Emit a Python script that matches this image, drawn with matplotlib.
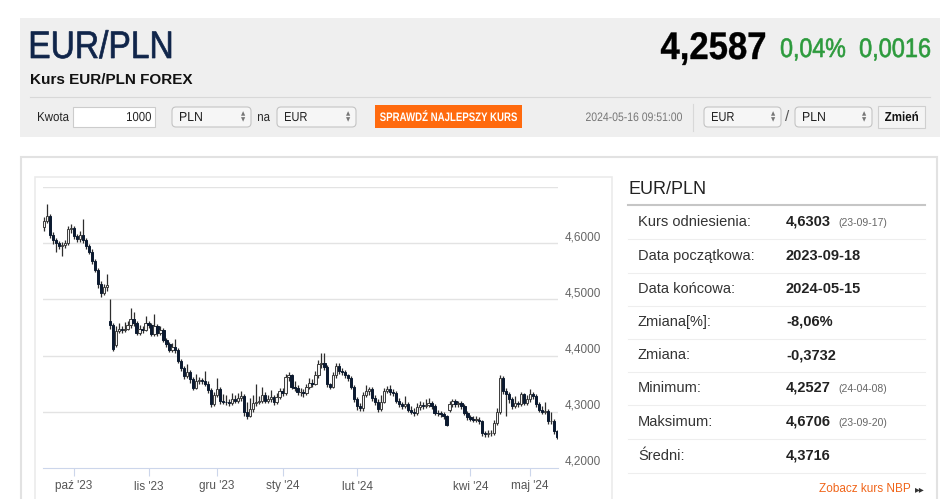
import matplotlib
matplotlib.use("Agg")
import matplotlib.pyplot as plt
from matplotlib.patches import Rectangle, FancyBboxPatch, PathPatch
from matplotlib.textpath import TextPath
from matplotlib.font_manager import FontProperties
from matplotlib.transforms import Affine2D

# daily candles EUR/PLN, 2023-09-18 .. 2024-05-15
opens = [
    4.628, 4.640, 4.648, 4.615, 4.605, 4.600, 4.595, 4.597, 4.600, 4.625,
    4.627, 4.612, 4.607, 4.615, 4.605, 4.595, 4.585, 4.568, 4.552, 4.527,
    4.512, 4.522, 4.462, 4.455, 4.418, 4.444, 4.447, 4.445, 4.448, 4.455,
    4.465, 4.458, 4.440, 4.448, 4.446, 4.458, 4.455, 4.438, 4.452, 4.440,
    4.445, 4.428, 4.420, 4.410, 4.415, 4.410, 4.390, 4.378, 4.363, 4.370,
    4.358, 4.342, 4.355, 4.356, 4.355, 4.350, 4.338, 4.313, 4.330, 4.340,
    4.319, 4.318, 4.317, 4.316, 4.322, 4.320, 4.325, 4.328, 4.300, 4.293,
    4.305, 4.315, 4.318, 4.320, 4.330, 4.320, 4.323, 4.326, 4.318, 4.327,
    4.337, 4.334, 4.362, 4.365, 4.345, 4.342, 4.335, 4.335, 4.333, 4.345,
    4.352, 4.350, 4.365, 4.385, 4.386, 4.380, 4.349, 4.345, 4.365, 4.382,
    4.372, 4.370, 4.365, 4.360, 4.345, 4.323, 4.310, 4.306, 4.330, 4.337,
    4.340, 4.325, 4.318, 4.305, 4.318, 4.337, 4.340, 4.335, 4.333, 4.320,
    4.313, 4.310, 4.313, 4.304, 4.300, 4.298, 4.308, 4.312, 4.310, 4.312,
    4.316, 4.310, 4.298, 4.297, 4.296, 4.292, 4.303, 4.313, 4.319, 4.313,
    4.316, 4.310, 4.298, 4.290, 4.287, 4.286, 4.286, 4.283, 4.262, 4.260,
    4.262, 4.262, 4.280, 4.300, 4.360, 4.337, 4.331, 4.322, 4.310, 4.316,
    4.313, 4.331, 4.316, 4.322, 4.331, 4.328, 4.313, 4.304, 4.300, 4.301,
    4.283, 4.283, 4.265]
closes = [
    4.640, 4.648, 4.615, 4.605, 4.600, 4.595, 4.597, 4.600, 4.625, 4.627,
    4.612, 4.607, 4.615, 4.605, 4.595, 4.585, 4.568, 4.552, 4.527, 4.512,
    4.522, 4.525, 4.455, 4.412, 4.444, 4.447, 4.445, 4.448, 4.455, 4.465,
    4.458, 4.440, 4.448, 4.446, 4.458, 4.455, 4.438, 4.452, 4.440, 4.445,
    4.428, 4.420, 4.410, 4.415, 4.410, 4.390, 4.378, 4.363, 4.370, 4.358,
    4.342, 4.355, 4.356, 4.355, 4.350, 4.338, 4.313, 4.330, 4.340, 4.319,
    4.318, 4.317, 4.316, 4.322, 4.320, 4.325, 4.328, 4.300, 4.293, 4.305,
    4.315, 4.318, 4.320, 4.330, 4.320, 4.323, 4.326, 4.318, 4.327, 4.337,
    4.334, 4.362, 4.365, 4.345, 4.342, 4.335, 4.335, 4.333, 4.345, 4.352,
    4.350, 4.365, 4.385, 4.386, 4.380, 4.349, 4.345, 4.365, 4.382, 4.372,
    4.370, 4.365, 4.360, 4.345, 4.323, 4.310, 4.306, 4.330, 4.337, 4.340,
    4.325, 4.318, 4.305, 4.318, 4.337, 4.340, 4.335, 4.333, 4.320, 4.313,
    4.310, 4.313, 4.304, 4.300, 4.298, 4.308, 4.312, 4.310, 4.312, 4.316,
    4.310, 4.298, 4.297, 4.296, 4.292, 4.277, 4.313, 4.319, 4.313, 4.316,
    4.310, 4.298, 4.290, 4.287, 4.286, 4.286, 4.283, 4.262, 4.260, 4.262,
    4.262, 4.280, 4.300, 4.360, 4.337, 4.331, 4.322, 4.310, 4.316, 4.313,
    4.331, 4.316, 4.322, 4.331, 4.328, 4.313, 4.304, 4.300, 4.301, 4.283,
    4.283, 4.265, 4.256]
highs = [
    4.646, 4.670, 4.652, 4.620, 4.610, 4.604, 4.603, 4.606, 4.630, 4.634,
    4.630, 4.616, 4.622, 4.643, 4.610, 4.598, 4.590, 4.572, 4.555, 4.532,
    4.528, 4.545, 4.500, 4.458, 4.452, 4.458, 4.452, 4.460, 4.462, 4.484,
    4.478, 4.462, 4.455, 4.453, 4.470, 4.462, 4.458, 4.474, 4.456, 4.452,
    4.450, 4.432, 4.424, 4.422, 4.430, 4.413, 4.394, 4.382, 4.385, 4.374,
    4.362, 4.368, 4.362, 4.360, 4.372, 4.354, 4.342, 4.336, 4.360, 4.345,
    4.332, 4.330, 4.322, 4.333, 4.330, 4.334, 4.337, 4.332, 4.318, 4.325,
    4.330, 4.349, 4.328, 4.345, 4.335, 4.330, 4.338, 4.330, 4.334, 4.343,
    4.342, 4.367, 4.370, 4.368, 4.355, 4.348, 4.342, 4.340, 4.350, 4.360,
    4.358, 4.372, 4.392, 4.405, 4.404, 4.384, 4.352, 4.370, 4.387, 4.386,
    4.378, 4.374, 4.368, 4.364, 4.348, 4.327, 4.315, 4.335, 4.348, 4.345,
    4.344, 4.330, 4.322, 4.330, 4.342, 4.346, 4.347, 4.340, 4.337, 4.325,
    4.318, 4.328, 4.318, 4.310, 4.306, 4.316, 4.320, 4.318, 4.322, 4.324,
    4.320, 4.314, 4.303, 4.302, 4.300, 4.295, 4.320, 4.323, 4.322, 4.320,
    4.320, 4.314, 4.302, 4.295, 4.293, 4.292, 4.290, 4.286, 4.266, 4.268,
    4.268, 4.285, 4.306, 4.365, 4.363, 4.342, 4.335, 4.326, 4.328, 4.320,
    4.336, 4.334, 4.330, 4.340, 4.336, 4.332, 4.317, 4.310, 4.318, 4.305,
    4.300, 4.287, 4.268]
lows = [
    4.622, 4.636, 4.610, 4.598, 4.585, 4.590, 4.578, 4.592, 4.596, 4.618,
    4.608, 4.602, 4.603, 4.600, 4.590, 4.580, 4.563, 4.548, 4.520, 4.505,
    4.508, 4.515, 4.448, 4.408, 4.415, 4.440, 4.440, 4.442, 4.445, 4.450,
    4.452, 4.436, 4.436, 4.441, 4.443, 4.450, 4.434, 4.435, 4.435, 4.436,
    4.424, 4.415, 4.406, 4.406, 4.405, 4.386, 4.372, 4.358, 4.360, 4.352,
    4.338, 4.340, 4.350, 4.349, 4.346, 4.334, 4.309, 4.310, 4.326, 4.314,
    4.313, 4.312, 4.311, 4.312, 4.315, 4.316, 4.320, 4.292, 4.288, 4.290,
    4.300, 4.310, 4.313, 4.315, 4.315, 4.316, 4.318, 4.312, 4.313, 4.322,
    4.328, 4.330, 4.355, 4.340, 4.337, 4.330, 4.328, 4.327, 4.330, 4.340,
    4.345, 4.347, 4.360, 4.378, 4.375, 4.345, 4.340, 4.342, 4.360, 4.368,
    4.365, 4.360, 4.355, 4.340, 4.318, 4.303, 4.302, 4.302, 4.326, 4.330,
    4.320, 4.312, 4.300, 4.302, 4.315, 4.333, 4.330, 4.328, 4.316, 4.308,
    4.305, 4.306, 4.300, 4.296, 4.292, 4.295, 4.304, 4.305, 4.306, 4.308,
    4.305, 4.294, 4.292, 4.291, 4.288, 4.274, 4.299, 4.308, 4.308, 4.309,
    4.305, 4.294, 4.286, 4.283, 4.282, 4.281, 4.278, 4.257, 4.255, 4.256,
    4.257, 4.258, 4.276, 4.296, 4.332, 4.292, 4.316, 4.305, 4.306, 4.308,
    4.310, 4.312, 4.312, 4.318, 4.322, 4.308, 4.299, 4.296, 4.296, 4.278,
    4.278, 4.260, 4.252]

month_labels = ["paź '23", "lis '23", "gru '23", "sty '24", "lut '24", "kwi '24", "maj '24"]
month_idx = [10, 35, 58, 80, 105, 143, 163]
y_ticks = [4.2, 4.3, 4.4, 4.5, 4.6]
y_grid = [4.3, 4.4, 4.5, 4.6, 4.7]

stat_labels = ["Kurs odniesienia:", "Data początkowa:", "Data końcowa:", "Zmiana[%]:",
               "Zmiana:", "Minimum:", "Maksimum:", "Średni:"]
stat_values = ["4,6303", "2023-09-18", "2024-05-15", "-8,06%", "-0,3732", "4,2527", "4,6706", "4,3716"]
stat_dates = ["(23-09-17)", "", "", "", "", "(24-04-08)", "(23-09-20)", ""]

plt.rcParams["font.family"] = ["Liberation Sans", "DejaVu Sans"]

fig = plt.figure(figsize=(9.48, 4.99), dpi=100)

# page drawn in pixel coordinates
bg = fig.add_axes([0, 0, 1, 1])
bg.set_xlim(0, 948)
bg.set_ylim(499, 0)
bg.axis("off")


def narrow(x, base, s, cap, width, color, bold=False, ha="left", stroke=0):
    # text squeezed horizontally to a given width (condensed web font look)
    prop = FontProperties(family="Liberation Sans", weight="bold" if bold else "normal")
    em = cap / 0.69
    tp = TextPath((0, 0), s, size=em, prop=prop)
    ext = tp.get_extents()
    sx = width / ext.width
    x0 = x - ext.x0 * sx
    if ha == "right":
        x0 = x - ext.x1 * sx
    elif ha == "center":
        x0 = x - (ext.x0 + ext.width / 2) * sx
    tr = Affine2D().scale(sx, -1).translate(x0, base) + bg.transData
    bg.add_patch(PathPatch(tp, transform=tr, fc=color, ec=color if stroke else "none", lw=stroke))


bg.add_patch(Rectangle((20, 18), 920, 119, fc="#efefef", ec="none"))
narrow(31, 58, "EUR/PLN", 26.5, 140, "#10254a", stroke=0.5)
bg.text(30, 80, "Kurs EUR/PLN FOREX", fontsize=11, weight="bold", color="#111", va="center")
bg.plot([30, 930], [97, 97], color="#d8d8d8", lw=0.8)

narrow(661, 59, "4,2587", 26.5, 104, "#000000", bold=True, stroke=0.3)
narrow(781, 57, "0,04%", 18.5, 64, "#2c9a3c", stroke=0.45)
narrow(860, 57, "0,0016", 18.5, 70, "#2c9a3c", stroke=0.45)


def select_box(x0, x1, label):
    bg.add_patch(FancyBboxPatch((x0, 107), x1 - x0, 20, boxstyle="round,pad=0,rounding_size=4",
                                fc="#f6f6f6", ec="#c4c4c4", lw=0.8))
    narrow(x0 + 8, 121, label, 9, len(label) * 7.3, "#222")
    bg.text(x1 - 8, 114, "▲", fontsize=4, color="#777", va="center", ha="center", family="DejaVu Sans")
    bg.text(x1 - 8, 120, "▼", fontsize=4, color="#777", va="center", ha="center", family="DejaVu Sans")


narrow(38, 121, "Kwota", 9, 31, "#222")
bg.add_patch(Rectangle((73, 107), 82, 20, fc="white", ec="#cccccc", lw=0.8))
narrow(151, 121, "1000", 9, 24, "#222", ha="right")
select_box(172, 251, "PLN")
narrow(258, 121, "na", 9, 12, "#222")
select_box(277, 356, "EUR")
bg.add_patch(Rectangle((375, 105), 147, 23, fc="#ff6a0e", ec="none"))
narrow(448.5, 121, "SPRAWDŹ NAJLEPSZY KURS", 8.5, 137, "white", bold=True, ha="center")
narrow(682, 121, "2024-05-16 09:51:00", 8.5, 96, "#777", ha="right")
bg.plot([693, 693], [104, 131], color="#d8d8d8", lw=0.8)
select_box(704, 781, "EUR")
bg.text(787.5, 117, "/", fontsize=11, color="#555", va="center", ha="center")
select_box(795, 872, "PLN")
bg.add_patch(Rectangle((878, 106), 47, 22, fc="#f4f4f4", ec="#cfcfcf", lw=0.8))
narrow(901.5, 121, "Zmień", 9, 33, "#111", bold=True, ha="center")

# lower container and chart frame
bg.add_patch(Rectangle((21, 157), 916, 360, fc="white", ec="#e2e2e2", lw=1.5))
bg.add_patch(Rectangle((35, 177), 577, 340, fc="white", ec="#ebebeb", lw=1.2))

# statistics panel
bg.text(629, 189, "EUR/PLN", fontsize=13, color="#222", va="center")
bg.plot([628, 925], [205, 205], color="#c6c6c6", lw=1.5)
row_y = [222, 256, 289, 322, 355, 388, 422, 456]
for k in range(len(stat_labels)):
    y = row_y[k]
    bg.text(638, y, stat_labels[k], fontsize=10.5, color="#333", va="center")
    bg.text(786, y, stat_values[k], fontsize=10.5, weight="bold", color="#222", va="center")
    if stat_dates[k]:
        bg.text(838, y + 1, stat_dates[k], fontsize=7.5, color="#666", va="center")
    bg.plot([628, 925], [y + 17, y + 17], color="#eeeeee", lw=0.8)
bg.text(911, 489, "Zobacz kurs NBP", fontsize=8.5, color="#f0651a", va="center", ha="right")
bg.text(925, 489, "▸▸", fontsize=7, color="#333", va="center", ha="right", family="DejaVu Sans")

# candlestick chart
ax = fig.add_axes([43 / 948, 1 - 468 / 499, 515 / 948, 281 / 499])
ax.set_zorder(2)
ax.patch.set_alpha(0)
n = len(closes)
idx = list(range(n))
ax.vlines(idx, lows, highs, color="#2e2e2e", lw=0.9, zorder=2)
for i in idx:
    o, c = opens[i], closes[i]
    lo, hi = min(o, c), max(o, c)
    up = c >= o
    ax.bar(i, max(hi - lo, 0.0008), bottom=lo, width=0.78,
           color="#f2f2f2" if up else "#0c1a30", edgecolor="#3c3c3c" if up else "#0c1a30",
           lw=0.7, zorder=3)

ax.set_xlim(-0.4, n - 0.6)
ax.set_ylim(4.2, 4.7)
for g in y_grid:
    ax.axhline(g, color="#e3e3e3", lw=1, zorder=1)
for s in ["top", "left", "right"]:
    ax.spines[s].set_visible(False)
ax.spines["bottom"].set_color("#ccd6eb")
ax.set_xticks(month_idx)
ax.set_xticklabels(month_labels, fontsize=8.5, color="#555")
ax.tick_params(axis="x", length=6, color="#ccd6eb", pad=3)
ax.yaxis.tick_right()
ax.set_yticks(y_ticks)
ax.set_yticklabels([f"{v:.4f}".replace(".", ",") for v in y_ticks], fontsize=8.5, color="#666")
ax.tick_params(axis="y", length=0, pad=5)
for lab in ax.get_yticklabels():
    lab.set_verticalalignment("bottom")

fig.savefig("out.png", dpi=100)
